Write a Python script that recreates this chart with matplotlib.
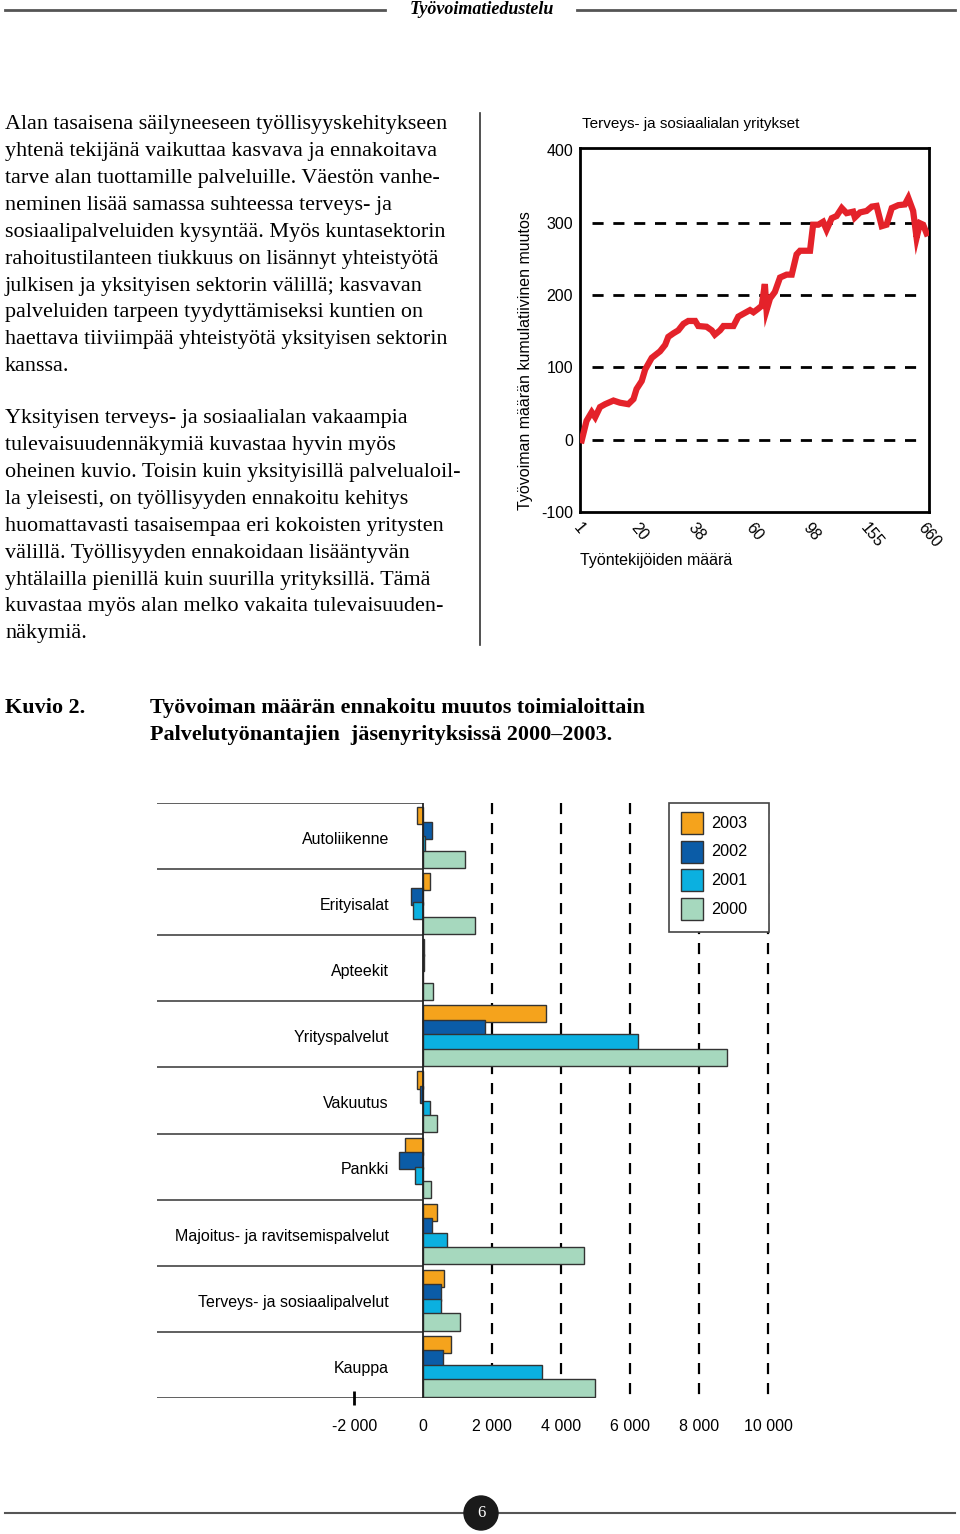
import numpy as np
import matplotlib
matplotlib.use("Agg")
import matplotlib.pyplot as plt
from matplotlib.patches import Circle, Rectangle

# ---------------------------------------------------------------
# data
# ---------------------------------------------------------------
# top chart: cumulative change, firms ordered by size (position 0..100 along axis)
firm_pos = [0, 1.4, 2.9, 3.9, 5.3, 6.8, 9.2, 11.1, 13.5, 15.0, 15.9, 17.4, 18.4,
            20.3, 22.7, 24.2, 25.1, 26.6, 28.0, 29.5, 30.9, 32.9, 33.8, 36.2,
            37.7, 38.6, 40.1, 41.1, 44.0, 45.4, 46.9, 48.8, 49.8, 51.2, 52.2,
            53.1, 53.6, 54.6, 56.0, 57.5, 59.4, 60.9, 62.3, 63.3, 66.2, 67.1,
            68.6, 70.0, 71.0, 72.5, 73.9, 75.4, 76.8, 78.7, 79.2, 80.7, 82.6,
            84.1, 85.5, 87.0, 88.4, 89.9, 91.8, 93.7, 94.7, 96.1, 97.1, 98.1,
            99.0, 100]
cum_change = [-1, 26, 38, 31, 45, 49, 54, 51, 49, 56, 70, 81, 97,
              113, 122, 131, 142, 147, 151, 160, 164, 164, 157, 156,
              151, 145, 151, 157, 157, 170, 174, 179, 176, 181, 185,
              215, 179, 195, 204, 224, 228, 228, 256, 261, 261, 297,
              297, 301, 290, 306, 309, 320, 313, 315, 307, 314, 316,
              322, 323, 295, 297, 320, 324, 325, 334, 316, 279, 299,
              297, 285]
size_labels = ["1", "20", "38", "60", "98", "155", "660"]
yticks_top = [-100, 0, 100, 200, 300, 400]
grid_top = [0, 100, 200, 300]

# bottom chart: change in workforce by industry
industries = ["Autoliikenne", "Erityisalat", "Apteekit", "Yrityspalvelut",
              "Vakuutus", "Pankki", "Majoitus- ja ravitsemispalvelut",
              "Terveys- ja sosiaalipalvelut", "Kauppa"]
years = ["2003", "2002", "2001", "2000"]
v2003 = [-190, 190, 20, 3550, -190, -520, 390, 610, 790]
v2002 = [240, -370, 30, 1780, -100, -700, 250, 510, 560]
v2001 = [60, -290, 0, 6230, 190, -230, 700, 510, 3450]
v2000 = [1220, 1500, 290, 8790, 390, 230, 4660, 1070, 4990]
bar_colors = ["#F5A31C", "#0B5CA7", "#0BB0E0", "#A6D8BE"]
xticks_bar = [-2000, 0, 2000, 4000, 6000, 8000, 10000]
xtick_labels = ["-2 000", "0", "2 000", "4 000", "6 000", "8 000", "10 000"]

para1 = ["Alan tasaisena säilyneeseen työllisyyskehitykseen",
         "yhtenä tekijänä vaikuttaa kasvava ja ennakoitava",
         "tarve alan tuottamille palveluille. Väestön vanhe-",
         "neminen lisää samassa suhteessa terveys- ja",
         "sosiaalipalveluiden kysyntää. Myös kuntasektorin",
         "rahoitustilanteen tiukkuus on lisännyt yhteistyötä",
         "julkisen ja yksityisen sektorin välillä; kasvavan",
         "palveluiden tarpeen tyydyttämiseksi kuntien on",
         "haettava tiiviimpää yhteistyötä yksityisen sektorin",
         "kanssa."]
para2 = ["Yksityisen terveys- ja sosiaalialan vakaampia",
         "tulevaisuudennäkymiä kuvastaa hyvin myös",
         "oheinen kuvio. Toisin kuin yksityisillä palvelualoil-",
         "la yleisesti, on työllisyyden ennakoitu kehitys",
         "huomattavasti tasaisempaa eri kokoisten yritysten",
         "välillä. Työllisyyden ennakoidaan lisääntyvän",
         "yhtälailla pienillä kuin suurilla yrityksillä. Tämä",
         "kuvastaa myös alan melko vakaita tulevaisuuden-",
         "näkymiä."]

# ---------------------------------------------------------------
# page setup
# ---------------------------------------------------------------
W, H = 960, 1534
SERIF = ["Liberation Serif", "DejaVu Serif"]
SANS = ["Liberation Sans", "DejaVu Sans"]
plt.rcParams["font.family"] = SANS

fig = plt.figure(figsize=(W / 100, H / 100), dpi=100)


def px_axes(left, top, right, bottom):
    """axes rectangle given in page pixels"""
    return fig.add_axes([left / W, 1 - bottom / H, (right - left) / W, (bottom - top) / H])


# page layer in pixel coordinates (text, rules, legend) - kept on top of the charts
bg = fig.add_axes([0, 0, 1, 1])
bg.set_xlim(0, W)
bg.set_ylim(H, 0)
bg.axis("off")
bg.set_zorder(5)

# header
bg.plot([5, 385], [10, 10], color="#555555", lw=2)
bg.plot([577, 955], [10, 10], color="#555555", lw=2)
bg.text(482, 10, "Työvoimatiedustelu", family=SERIF, style="italic", weight="bold",
        fontsize=13, ha="center", va="center")

# body text
for i, line in enumerate(para1):
    bg.text(5, 125 + i * 26.85, line, family=SERIF, fontsize=15.9, ha="left", va="center")
for i, line in enumerate(para2):
    bg.text(5, 419 + i * 26.85, line, family=SERIF, fontsize=15.9, ha="left", va="center")
bg.plot([480, 480], [113, 645], color="#333333", lw=1.2)

# caption
bg.text(5, 708, "Kuvio 2.", family=SERIF, weight="bold", fontsize=15.9, ha="left", va="center")
bg.text(150, 708, "Työvoiman määrän ennakoitu muutos toimialoittain", family=SERIF,
        weight="bold", fontsize=15.9, ha="left", va="center")
bg.text(150, 735, "Palvelutyönantajien  jäsenyrityksissä 2000–2003.", family=SERIF,
        weight="bold", fontsize=15.9, ha="left", va="center")

# footer
bg.plot([5, 955], [1513, 1513], color="#555555", lw=1.5)
bg.add_patch(Circle((481, 1513), 17, color="#1a1a1a", zorder=3))
bg.text(481, 1513, "6", family=SERIF, color="white", fontsize=12, ha="center",
        va="center", zorder=4)

# ---------------------------------------------------------------
# top chart
# ---------------------------------------------------------------
ax1 = px_axes(580, 148, 929, 512)
ax1.plot(firm_pos, cum_change, color="#E4222A", lw=4.5, solid_joinstyle="miter", zorder=3)
ax1.hlines(grid_top, 3, 97.5, colors="black", linestyles=(0, (4, 3.5)), lw=2)
ax1.set_xlim(-0.5, 100.7)
ax1.set_ylim(-98, 403)
ax1.set_yticks(yticks_top)
ax1.set_yticklabels([str(v) for v in yticks_top], fontsize=11.5)
ax1.set_xticks(np.linspace(0, 100, len(size_labels)))
ax1.set_xticklabels(size_labels, fontsize=11.5, rotation=-50, ha="left", va="top",
                    rotation_mode="anchor")
ax1.tick_params(length=0)
ax1.tick_params(axis="y", pad=5)
ax1.tick_params(axis="x", pad=6)
for s in ax1.spines.values():
    s.set_linewidth(2)
ax1.set_ylabel("Työvoiman määrän kumulatiivinen muutos", fontsize=11.5)
ax1.yaxis.set_label_coords(-0.135, 0.415)
bg.text(582, 124, "Terveys- ja sosiaalialan yritykset", fontsize=11, ha="left", va="center")
bg.text(580, 560, "Työntekijöiden määrä", fontsize=11.5, ha="left", va="center")

# ---------------------------------------------------------------
# bar chart
# ---------------------------------------------------------------
ax2 = px_axes(157, 803, 790, 1398)
x_left = -7720
ax2.set_xlim(x_left, 10630)
ax2.set_ylim(len(industries) - 0.5, -0.5)

ypos = np.arange(len(industries))
offsets = [-0.31, -0.09, 0.13, 0.35]
series = [v2003, v2002, v2001, v2000]
for vals, off, col in zip(series, offsets, bar_colors):
    ax2.barh(ypos + off, vals, height=0.26, color=col, edgecolor="#333333",
             linewidth=1, zorder=3)

ax2.vlines(xticks_bar[2:], -0.5, len(industries) - 0.5, colors="black",
           linestyles=(0, (5, 4)), lw=1.6, zorder=1)
ax2.vlines(0, -0.5, len(industries) - 0.5, colors="#222222", lw=1.3, zorder=4)
ax2.hlines(np.arange(len(industries) + 1) - 0.5, x_left, 0, colors="#444444", lw=1.2)
ax2.vlines(-2000, len(industries) - 0.6, len(industries) - 0.4, colors="black", lw=2,
           clip_on=False)

for i, name in enumerate(industries):
    ax2.text(0.3665, i + 0.05, name, transform=ax2.get_yaxis_transform(), fontsize=11.5,
             ha="right", va="center")

ax2.set_yticks([])
ax2.set_xticks(xticks_bar)
ax2.set_xticklabels(xtick_labels, fontsize=11.5)
ax2.tick_params(length=0, pad=15)
for s in ax2.spines.values():
    s.set_visible(False)

# legend box (page layer, covers the grid lines behind it)
bg.add_patch(Rectangle((669, 803), 100, 129, facecolor="white", edgecolor="#444444",
                       lw=1.2, zorder=5))
for k, (yr, col) in enumerate(zip(years, bar_colors)):
    yc = 823 + k * 28.7
    bg.add_patch(Rectangle((681, yc - 11), 22, 22, facecolor=col, edgecolor="#333333",
                           lw=1, zorder=6))
    bg.text(711, yc, yr, fontsize=11.7, ha="left", va="center", zorder=6)

fig.savefig("out.png", dpi=100)
